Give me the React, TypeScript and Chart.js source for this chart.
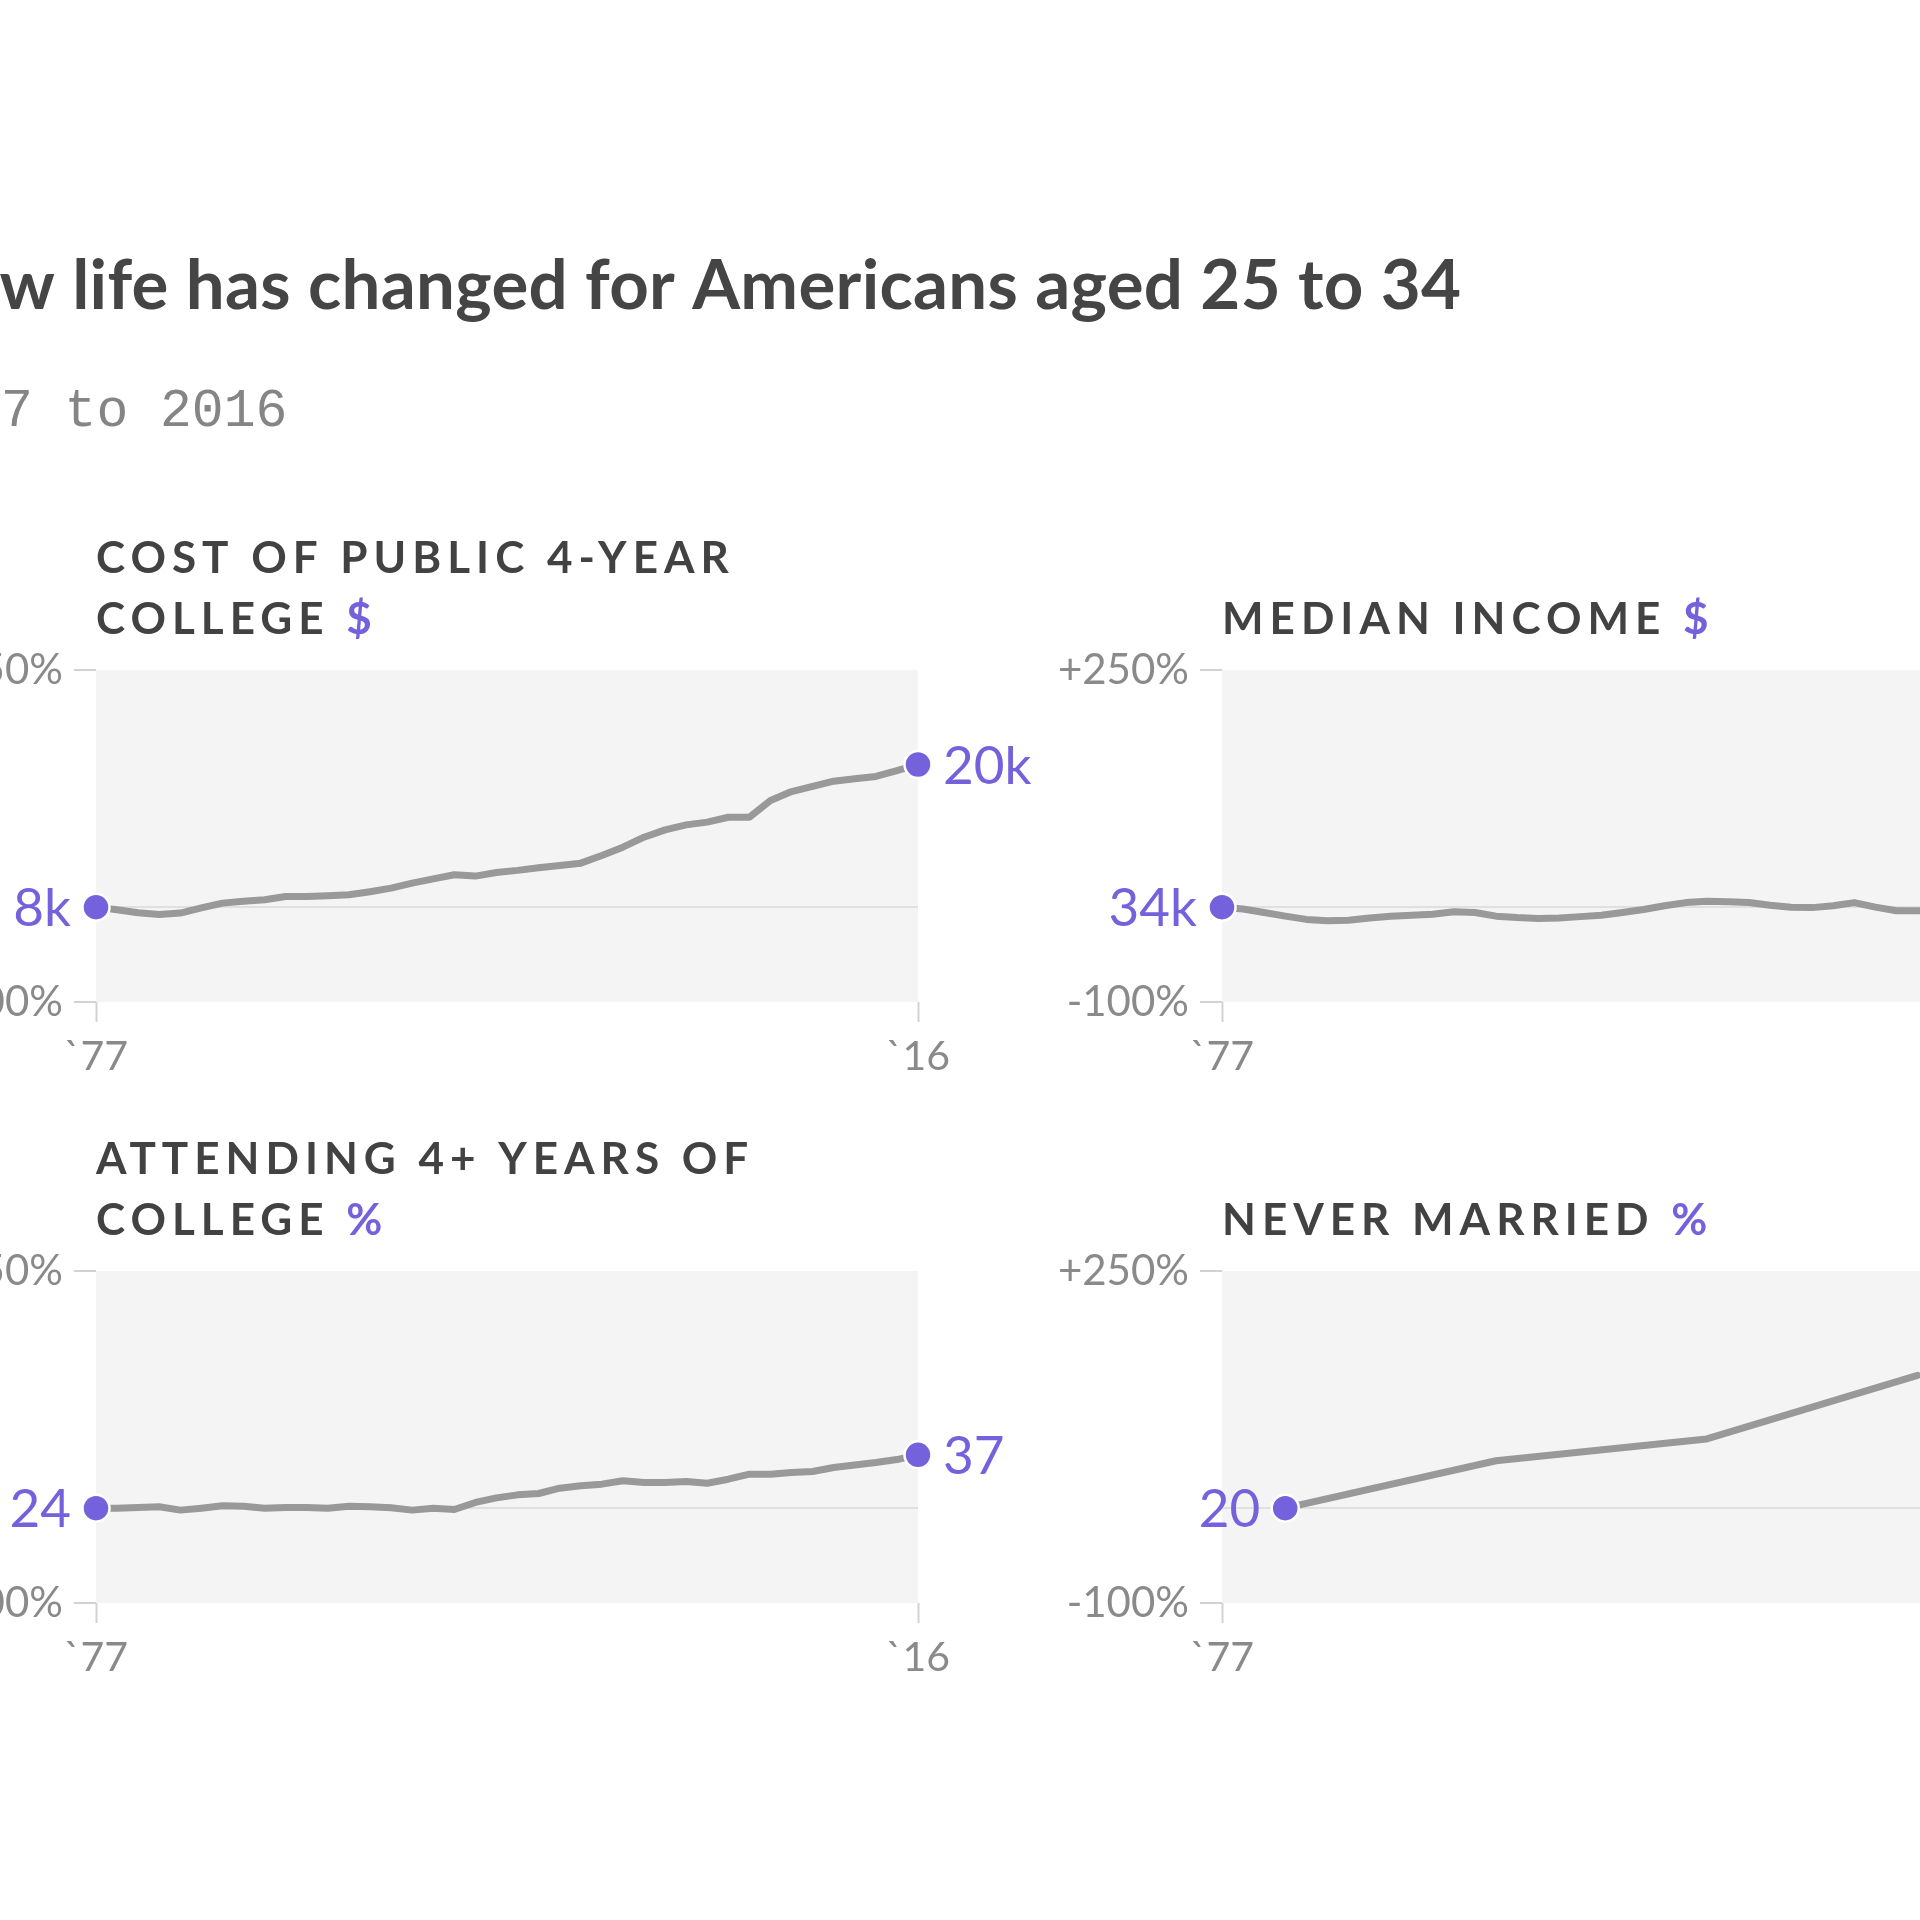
import React, { useEffect, useRef } from 'react';
import { Chart, registerables } from 'chart.js';

Chart.register(...registerables);

// ---------- data ----------
const YEARS = [
  1977, 1978, 1979, 1980, 1981, 1982, 1983, 1984, 1985, 1986,
  1987, 1988, 1989, 1990, 1991, 1992, 1993, 1994, 1995, 1996,
  1997, 1998, 1999, 2000, 2001, 2002, 2003, 2004, 2005, 2006,
  2007, 2008, 2009, 2010, 2011, 2012, 2013, 2014, 2015, 2016,
];

// Cost of public 4-year college, $ thousands
const COST_OF_COLLEGE_K = [
  8.0, 7.78, 7.53, 7.38, 7.5, 7.94, 8.34, 8.5, 8.62, 8.9,
  8.9, 8.96, 9.04, 9.3, 9.6, 10.02, 10.39, 10.73, 10.62, 10.92,
  11.1, 11.32, 11.51, 11.71, 12.36, 13.06, 13.9, 14.52, 14.94, 15.17,
  15.58, 15.58, 16.99, 17.75, 18.18, 18.62, 18.82, 19.02, 19.52, 20.03,
];

// Median income, $ thousands (visible part, 1977-2011)
const MEDIAN_INCOME_K = [
  34.0, 33.35, 32.06, 30.77, 29.61, 29.14, 29.31, 30.12, 30.77, 31.08,
  31.42, 32.37, 32.06, 30.77, 30.26, 29.95, 30.12, 30.6, 31.08, 32.06,
  33.18, 34.48, 35.63, 36.11, 35.94, 35.63, 34.65, 34.0, 33.83, 34.48,
  35.63, 34.0, 32.71, 32.71, 32.5,
];

// Attending 4+ years of college, %
const ATTENDING_COLLEGE_PCT = [
  24.0, 24.0, 24.17, 24.34, 23.5, 24.0, 24.6, 24.5, 24.0, 24.17,
  24.17, 24.0, 24.5, 24.34, 24.1, 23.5, 24.0, 23.66, 25.44, 26.6,
  27.36, 27.7, 29.04, 29.64, 30.07, 30.91, 30.48, 30.48, 30.72, 30.31,
  31.32, 32.59, 32.59, 33.02, 33.26, 34.27, 34.94, 35.54, 36.29, 37.49,
];

// Never married, % (census years, visible part)
const NEVER_MARRIED_YEARS = [1980, 1990, 2000, 2010];
const NEVER_MARRIED_PCT = [20.0, 30.0, 34.6, 48.0];

const Y_TICKS = [-100, 0, 250];
const X_TICKS = [1977, 2016];

const TITLE = 'How life has changed for Americans aged 25 to 34';
const SUBTITLE = '1977 to 2016';

// ---------- style ----------
const PURPLE = '#7461dc';
const DARK = '#424242';
const GRAY_TEXT = '#8a8a8a';
const SANS = 'Lato';
const LINE_W = 7;

type PanelProps = {
  x: number;
  y: number;
  w: number;
  h: number;
  yAxisW: number;
  padTop: number;
  padRight: number;
  years: number[];
  values: number[];
  fmt: (v: number) => string;
  lines: string[];
  unit: string;
};

function Panel(p: PanelProps) {
  const ref = useRef<HTMLCanvasElement>(null);
  useEffect(() => {
    const canvas = ref.current!;
    const base = p.values[0];
    const pts = p.values.map((v, i) => ({ x: p.years[i], y: (v / base - 1) * 100 }));
    const lastTick = X_TICKS[X_TICKS.length - 1];

    const bgPlugin = {
      id: 'plotBg',
      beforeDraw(c: any) {
        const a = c.chartArea;
        const ctx = c.ctx;
        ctx.save();
        ctx.fillStyle = '#f4f4f4';
        ctx.fillRect(a.left, a.top, a.right - a.left, a.bottom - a.top);
        ctx.restore();
      },
    };

    const labelPlugin = {
      id: 'endLabels',
      afterDatasetsDraw(c: any) {
        const meta = c.getDatasetMeta(0);
        const ctx = c.ctx;
        ctx.save();
        ctx.font = `53px ${SANS}`;
        ctx.fillStyle = PURPLE;
        ctx.textBaseline = 'alphabetic';
        const first = meta.data[0];
        ctx.textAlign = 'right';
        ctx.fillText(p.fmt(p.values[0]), first.x - 25, first.y + 19);
        const li = pts.length - 1;
        if (pts[li].x === lastTick) {
          const last = meta.data[li];
          ctx.textAlign = 'left';
          ctx.fillText(p.fmt(p.values[li]), last.x + 25, last.y + 19);
        }
        ctx.restore();
      },
    };

    const titlePlugin = {
      id: 'panelTitle',
      afterDraw(c: any) {
        const a = c.chartArea;
        const ctx = c.ctx;
        ctx.save();
        ctx.font = `bold 44px ${SANS}`;
        (ctx as any).letterSpacing = '6px';
        ctx.textBaseline = 'alphabetic';
        ctx.textAlign = 'left';
        const n = p.lines.length;
        p.lines.forEach((line, li) => {
          const y = a.top - 36 - (n - 1 - li) * 61;
          let x = a.left;
          ctx.fillStyle = DARK;
          const t = li === n - 1 ? line + ' ' : line;
          ctx.fillText(t, x, y);
          if (li === n - 1) {
            x += ctx.measureText(t).width;
            ctx.fillStyle = PURPLE;
            ctx.fillText(p.unit, x, y);
          }
        });
        ctx.restore();
      },
    };

    const chart = new Chart(canvas, {
      type: 'line',
      data: {
        datasets: [
          {
            data: pts,
            borderColor: '#999999',
            borderWidth: LINE_W,
            tension: 0,
            borderJoinStyle: 'round',
            borderCapStyle: 'round',
            pointRadius: (ctx: any) =>
              ctx.dataIndex === 0 || (pts[ctx.dataIndex] && pts[ctx.dataIndex].x === lastTick) ? 13.5 : 0,
            pointHoverRadius: 0,
            pointBackgroundColor: PURPLE,
            pointBorderColor: '#ffffff',
            pointBorderWidth: 2.5,
            clip: false as any,
          } as any,
        ],
      },
      options: {
        animation: false,
        responsive: false,
        maintainAspectRatio: false,
        events: [],
        elements: { line: { borderWidth: LINE_W } },
        layout: { padding: { top: p.padTop, right: p.padRight, left: 0, bottom: 0 } },
        plugins: { legend: { display: false }, tooltip: { enabled: false } },
        scales: {
          x: {
            type: 'linear',
            min: X_TICKS[0],
            max: X_TICKS[X_TICKS.length - 1],
            afterBuildTicks: (s: any) => {
              s.ticks = X_TICKS.map((v) => ({ value: v }));
            },
            afterFit: (s: any) => {
              s.height = 98;
            },
            ticks: {
              autoSkip: false,
              maxRotation: 0,
              padding: 10,
              color: GRAY_TEXT,
              font: { family: SANS, size: 41 },
              callback: (v: any) => '`' + String(v).slice(2),
            },
            grid: {
              drawOnChartArea: false,
              drawTicks: true,
              tickLength: 20,
              tickColor: '#d2d2d2',
              tickWidth: 2,
            } as any,
            border: { display: false },
          },
          y: {
            type: 'linear',
            min: Y_TICKS[0],
            max: Y_TICKS[Y_TICKS.length - 1],
            afterBuildTicks: (s: any) => {
              s.ticks = Y_TICKS.map((v) => ({ value: v }));
            },
            afterFit: (s: any) => {
              s.width = p.yAxisW;
            },
            ticks: {
              autoSkip: false,
              padding: 11,
              color: GRAY_TEXT,
              font: { family: SANS, size: 42 },
              callback: (v: any) => (v === 0 ? '' : (v > 0 ? '+' : '') + v + '%'),
            },
            grid: {
              color: (ctx: any) => (ctx.tick && ctx.tick.value === 0 ? '#e0e0e0' : 'rgba(0,0,0,0)'),
              lineWidth: 2,
              drawTicks: true,
              tickLength: 22,
              tickWidth: 2,
              tickColor: (ctx: any) => (ctx.tick && ctx.tick.value === 0 ? 'rgba(0,0,0,0)' : '#d2d2d2'),
            } as any,
            border: { display: false },
          },
        },
      } as any,
      plugins: [bgPlugin, labelPlugin, titlePlugin],
    });
    return () => chart.destroy();
  }, []);
  return (
    <canvas
      ref={ref}
      width={p.w}
      height={p.h}
      style={{ position: 'absolute', left: p.x, top: p.y, width: p.w, height: p.h, display: 'block' }}
    />
  );
}

function Header() {
  const ref = useRef<HTMLCanvasElement>(null);
  useEffect(() => {
    const canvas = ref.current!;
    const draw = () => {
      const ctx = canvas.getContext('2d')!;
      ctx.clearRect(0, 0, canvas.width, canvas.height);
      ctx.textBaseline = 'alphabetic';
      ctx.textAlign = 'left';
      ctx.font = `bold 69px ${SANS}`;
      (ctx as any).letterSpacing = '0.3px';
      ctx.fillStyle = '#454545';
      const off = ctx.measureText('Ho').width;
      ctx.fillText(TITLE, -off, 309);
      (ctx as any).letterSpacing = '0px';
      ctx.font = '53px "Liberation Mono"';
      ctx.fillStyle = '#858585';
      const off2 = ctx.measureText('197').width;
      ctx.fillText(SUBTITLE, -off2 + 1, 426);
    };
    draw();
    if ((document as any).fonts && (document as any).fonts.ready) {
      (document as any).fonts.ready.then(draw);
    }
  }, []);
  return (
    <canvas
      ref={ref}
      width={1920}
      height={480}
      style={{ position: 'absolute', left: 0, top: 0, width: 1920, height: 480, display: 'block' }}
    />
  );
}

const fmtK = (v: number) => Math.round(v) + 'k';
const fmtN = (v: number) => String(Math.round(v));

export default function App() {
  return (
    <div
      style={{
        position: 'absolute',
        left: 0,
        top: 0,
        width: 1920,
        height: 1920,
        overflow: 'hidden',
        background: '#ffffff',
      }}
    >
      <Header />
      <Panel
        x={-220}
        y={500}
        w={1320}
        h={600}
        yAxisW={316}
        padTop={170}
        padRight={182}
        years={YEARS}
        values={COST_OF_COLLEGE_K}
        fmt={fmtK}
        lines={['COST OF PUBLIC 4-YEAR', 'COLLEGE']}
        unit="$"
      />
      <Panel
        x={1000}
        y={500}
        w={1320}
        h={600}
        yAxisW={222}
        padTop={170}
        padRight={276}
        years={YEARS}
        values={MEDIAN_INCOME_K}
        fmt={fmtK}
        lines={['MEDIAN INCOME']}
        unit="$"
      />
      <Panel
        x={-220}
        y={1101}
        w={1320}
        h={600}
        yAxisW={316}
        padTop={170}
        padRight={182}
        years={YEARS}
        values={ATTENDING_COLLEGE_PCT}
        fmt={fmtN}
        lines={['ATTENDING 4+ YEARS OF', 'COLLEGE']}
        unit="%"
      />
      <Panel
        x={1000}
        y={1101}
        w={1320}
        h={600}
        yAxisW={222}
        padTop={170}
        padRight={276}
        years={NEVER_MARRIED_YEARS}
        values={NEVER_MARRIED_PCT}
        fmt={fmtN}
        lines={['NEVER MARRIED']}
        unit="%"
      />
    </div>
  );
}
